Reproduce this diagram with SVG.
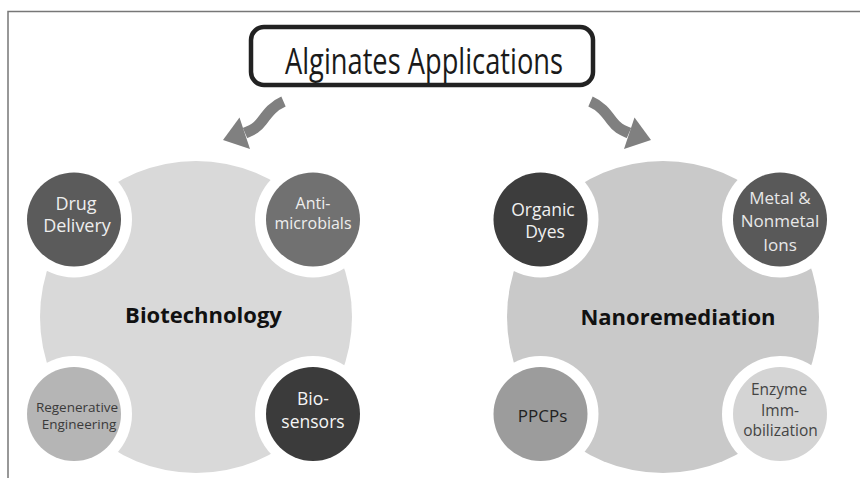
<svg xmlns="http://www.w3.org/2000/svg" width="860" height="479" viewBox="0 0 860 479">
  <defs>
    <style>
      .t { font-family: "Open Sans", "Liberation Sans", sans-serif; text-anchor: middle; }
      .hub { font-family: "Open Sans", "Liberation Sans", sans-serif; font-weight: bold; font-size: 22px; fill: #111; text-anchor: middle; }
      .ring { fill: #ffffff; }
      .arrow { fill: none; stroke: #808080; stroke-width: 11; }
      .head { fill: #808080; }
      .frame { stroke: #777; stroke-width: 1.5; fill: none; }
    </style>
    <g id="arrowShape">
      <path class="arrow" d="M283.5,101.5 C273,106 268,113 262,121 S252,130 245,133"/>
      <polygon class="head" points="239.5,117.5 223,140 250,149"/>
    </g>
  </defs>

  <rect width="860" height="479" fill="#ffffff"/>
  <path class="frame" d="M8,478 V11.5 H860"/>

  <g id="title">
    <rect x="251" y="27" width="342" height="58" rx="13" ry="13" fill="#ffffff" stroke="#222" stroke-width="4.5"/>
    <text class="t" x="424" y="74" font-size="37" fill="#1a1a1a" textLength="278" lengthAdjust="spacingAndGlyphs">Alginates Applications</text>
  </g>

  <g id="connectors">
    <use href="#arrowShape"/>
    <use href="#arrowShape" transform="translate(874 0) scale(-1 1)"/>
  </g>

  <g id="biotechnology">
    <circle cx="196" cy="317" r="156" fill="#d9d9d9"/>
    <text class="hub" x="203.5" y="323">Biotechnology</text>
  </g>

  <g id="drug-delivery">
    <circle class="ring" cx="74" cy="219.5" r="58"/>
    <circle cx="74" cy="219.5" r="47" fill="#5b5b5b"/>
    <text class="t" font-size="18" fill="#eeeeee"><tspan x="76" y="210">Drug</tspan><tspan x="77" y="232">Delivery</tspan></text>
  </g>

  <g id="antimicrobials">
    <circle class="ring" cx="313" cy="219.5" r="58"/>
    <circle cx="313" cy="219.5" r="47" fill="#717171"/>
    <text class="t" font-size="16" fill="#eeeeee"><tspan x="313" y="209">Anti-</tspan><tspan x="313" y="229">microbials</tspan></text>
  </g>

  <g id="regenerative-engineering">
    <circle class="ring" cx="74" cy="414" r="58"/>
    <circle cx="74" cy="414" r="47" fill="#b5b5b5"/>
    <text class="t" font-size="13.5" fill="#3a3a3a"><tspan x="77" y="412">Regenerative</tspan><tspan x="79" y="429">Engineering</tspan></text>
  </g>

  <g id="biosensors">
    <circle class="ring" cx="313" cy="414" r="58"/>
    <circle cx="313" cy="414" r="47" fill="#3b3b3b"/>
    <text class="t" font-size="17.5" fill="#f5f5f5"><tspan x="313" y="405">Bio-</tspan><tspan x="313" y="428">sensors</tspan></text>
  </g>

  <g id="nanoremediation">
    <circle cx="663" cy="317" r="156" fill="#c9c9c9"/>
    <text class="hub" x="678" y="325">Nanoremediation</text>
  </g>

  <g id="organic-dyes">
    <circle class="ring" cx="540.5" cy="219.5" r="58"/>
    <circle cx="540.5" cy="219.5" r="47" fill="#3d3d3d"/>
    <text class="t" font-size="17.5" fill="#f0f0f0"><tspan x="543" y="216">Organic</tspan><tspan x="545" y="238">Dyes</tspan></text>
  </g>

  <g id="metal-ions">
    <circle class="ring" cx="780" cy="219.5" r="58"/>
    <circle cx="780" cy="219.5" r="47" fill="#595959"/>
    <text class="t" font-size="17" fill="#e8e8e8"><tspan x="780" y="204">Metal &amp;</tspan><tspan x="780" y="227">Nonmetal</tspan><tspan x="780" y="251">Ions</tspan></text>
  </g>

  <g id="ppcps">
    <circle class="ring" cx="540.5" cy="414" r="58"/>
    <circle cx="540.5" cy="414" r="47" fill="#9c9c9c"/>
    <text class="t" font-size="17" fill="#222222" x="542.5" y="422">PPCPs</text>
  </g>

  <g id="enzyme-immobilization">
    <circle class="ring" cx="780" cy="414" r="58"/>
    <circle cx="780" cy="414" r="47" fill="#d4d4d4"/>
    <text class="t" font-size="15.5" fill="#444444"><tspan x="779" y="395">Enzyme</tspan><tspan x="780" y="416">Imm-</tspan><tspan x="780.5" y="436">obilization</tspan></text>
  </g>
</svg>
